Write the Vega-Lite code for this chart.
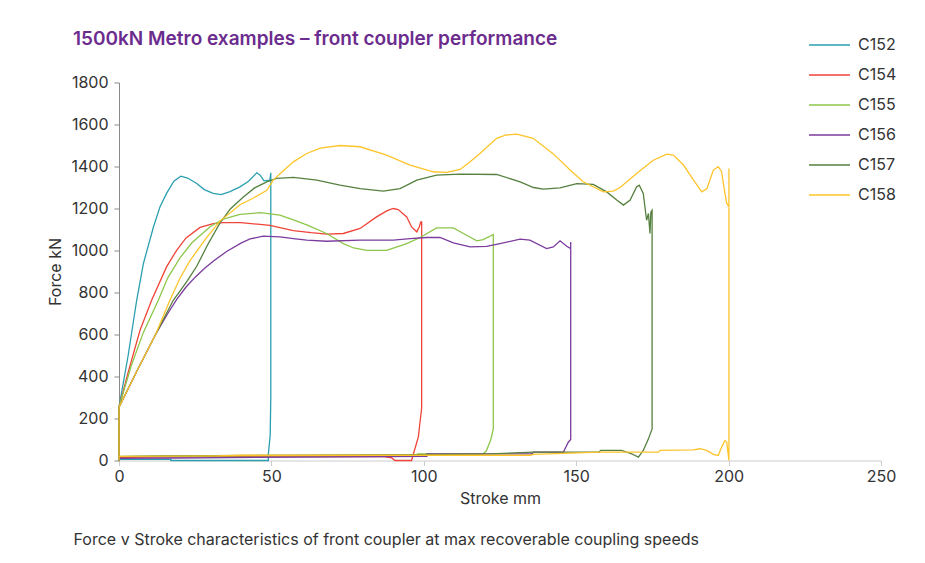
{
"$schema": "https://vega.github.io/schema/vega-lite/v6.json",
"width": 762, "height": 378,
"autosize": {"type": "none"},
"padding": {"left": 119, "top": 82.5, "right": 44, "bottom": 102.5},
"background": "white",
"config": {"font": "Inter", "view": {"stroke": null}},
"title": {"text": "1500kN Metro examples – front coupler performance", "color": "#6b2c8e", "fontSize": 19, "fontWeight": 600, "anchor": "start", "frame": "group", "dx": -46, "dy": 35, "offset": 10},
"data": {"values": [
{"s":"C152","x":0,"y":0,"i":0},{"s":"C152","x":0,"y":254,"i":1},{"s":"C152","x":3,"y":500,"i":2},{"s":"C152","x":5.8,"y":763,"i":3},{"s":"C152","x":8,"y":938,"i":4},{"s":"C152","x":11.3,"y":1112,"i":5},{"s":"C152","x":13.5,"y":1210,"i":6},{"s":"C152","x":15.6,"y":1272,"i":7},{"s":"C152","x":18,"y":1330,"i":8},{"s":"C152","x":20.3,"y":1354,"i":9},{"s":"C152","x":22.5,"y":1345,"i":10},{"s":"C152","x":25.5,"y":1319,"i":11},{"s":"C152","x":28,"y":1290,"i":12},{"s":"C152","x":30.9,"y":1272,"i":13},{"s":"C152","x":33.5,"y":1266,"i":14},{"s":"C152","x":36.4,"y":1280,"i":15},{"s":"C152","x":39.7,"y":1303,"i":16},{"s":"C152","x":42.5,"y":1330,"i":17},{"s":"C152","x":45.2,"y":1370,"i":18},{"s":"C152","x":46.3,"y":1359,"i":19},{"s":"C152","x":47.6,"y":1332,"i":20},{"s":"C152","x":49.5,"y":1335,"i":21},{"s":"C152","x":49.8,"y":1370,"i":22},{"s":"C152","x":49.8,"y":1260,"i":23},{"s":"C152","x":49.8,"y":700,"i":24},{"s":"C152","x":49.8,"y":300,"i":25},{"s":"C152","x":49.6,"y":120,"i":26},{"s":"C152","x":49,"y":30,"i":27},{"s":"C152","x":49,"y":0,"i":28},{"s":"C152","x":17,"y":0,"i":29},{"s":"C152","x":17,"y":5,"i":30},{"s":"C152","x":0,"y":5,"i":31},
{"s":"C154","x":0,"y":0,"i":0},{"s":"C154","x":0,"y":254,"i":1},{"s":"C154","x":3,"y":420,"i":2},{"s":"C154","x":6.9,"y":620,"i":3},{"s":"C154","x":10.7,"y":763,"i":4},{"s":"C154","x":15.6,"y":922,"i":5},{"s":"C154","x":18.9,"y":1001,"i":6},{"s":"C154","x":22,"y":1060,"i":7},{"s":"C154","x":26.6,"y":1110,"i":8},{"s":"C154","x":30.9,"y":1128,"i":9},{"s":"C154","x":34.2,"y":1133,"i":10},{"s":"C154","x":40,"y":1133,"i":11},{"s":"C154","x":46.3,"y":1124,"i":12},{"s":"C154","x":49.5,"y":1120,"i":13},{"s":"C154","x":57.2,"y":1095,"i":14},{"s":"C154","x":63,"y":1085,"i":15},{"s":"C154","x":68.1,"y":1078,"i":16},{"s":"C154","x":73.6,"y":1081,"i":17},{"s":"C154","x":79.1,"y":1105,"i":18},{"s":"C154","x":84.5,"y":1160,"i":19},{"s":"C154","x":88,"y":1190,"i":20},{"s":"C154","x":90,"y":1200,"i":21},{"s":"C154","x":91.6,"y":1195,"i":22},{"s":"C154","x":94.4,"y":1160,"i":23},{"s":"C154","x":96,"y":1112,"i":24},{"s":"C154","x":97.7,"y":1089,"i":25},{"s":"C154","x":98.5,"y":1112,"i":26},{"s":"C154","x":99,"y":1136,"i":27},{"s":"C154","x":99.3,"y":1136,"i":28},{"s":"C154","x":99.3,"y":400,"i":29},{"s":"C154","x":99.3,"y":250,"i":30},{"s":"C154","x":98.5,"y":150,"i":31},{"s":"C154","x":98.2,"y":111,"i":32},{"s":"C154","x":96.6,"y":32,"i":33},{"s":"C154","x":96,"y":0,"i":34},{"s":"C154","x":90.5,"y":0,"i":35},{"s":"C154","x":89.5,"y":12,"i":36},{"s":"C154","x":87,"y":18,"i":37},{"s":"C154","x":30,"y":18,"i":38},{"s":"C154","x":0,"y":15,"i":39},
{"s":"C155","x":0,"y":0,"i":0},{"s":"C155","x":0,"y":254,"i":1},{"s":"C155","x":4,"y":450,"i":2},{"s":"C155","x":8,"y":610,"i":3},{"s":"C155","x":12.9,"y":763,"i":4},{"s":"C155","x":16,"y":870,"i":5},{"s":"C155","x":20,"y":965,"i":6},{"s":"C155","x":24,"y":1038,"i":7},{"s":"C155","x":29.9,"y":1113,"i":8},{"s":"C155","x":34.2,"y":1150,"i":9},{"s":"C155","x":39.7,"y":1172,"i":10},{"s":"C155","x":46.3,"y":1180,"i":11},{"s":"C155","x":52.8,"y":1168,"i":12},{"s":"C155","x":57.2,"y":1146,"i":13},{"s":"C155","x":61.6,"y":1122,"i":14},{"s":"C155","x":68.1,"y":1081,"i":15},{"s":"C155","x":73.6,"y":1033,"i":16},{"s":"C155","x":77,"y":1012,"i":17},{"s":"C155","x":81.3,"y":1001,"i":18},{"s":"C155","x":87.8,"y":1001,"i":19},{"s":"C155","x":94.4,"y":1033,"i":20},{"s":"C155","x":98.8,"y":1062,"i":21},{"s":"C155","x":104.2,"y":1108,"i":22},{"s":"C155","x":109.7,"y":1108,"i":23},{"s":"C155","x":113,"y":1081,"i":24},{"s":"C155","x":117.4,"y":1046,"i":25},{"s":"C155","x":119.5,"y":1052,"i":26},{"s":"C155","x":122.8,"y":1076,"i":27},{"s":"C155","x":122.8,"y":150,"i":28},{"s":"C155","x":122,"y":100,"i":29},{"s":"C155","x":120.5,"y":45,"i":30},{"s":"C155","x":119.5,"y":32,"i":31},{"s":"C155","x":98,"y":32,"i":32},{"s":"C155","x":97.5,"y":22,"i":33},{"s":"C155","x":40,"y":22,"i":34},{"s":"C155","x":0,"y":20,"i":35},
{"s":"C156","x":0,"y":0,"i":0},{"s":"C156","x":0,"y":254,"i":1},{"s":"C156","x":6,"y":430,"i":2},{"s":"C156","x":12,"y":600,"i":3},{"s":"C156","x":16,"y":700,"i":4},{"s":"C156","x":19,"y":768,"i":5},{"s":"C156","x":22,"y":826,"i":6},{"s":"C156","x":25,"y":873,"i":7},{"s":"C156","x":28,"y":914,"i":8},{"s":"C156","x":31,"y":950,"i":9},{"s":"C156","x":35.3,"y":995,"i":10},{"s":"C156","x":40,"y":1035,"i":11},{"s":"C156","x":43,"y":1055,"i":12},{"s":"C156","x":47.3,"y":1068,"i":13},{"s":"C156","x":52.8,"y":1065,"i":14},{"s":"C156","x":57.2,"y":1057,"i":15},{"s":"C156","x":61.6,"y":1049,"i":16},{"s":"C156","x":68.1,"y":1044,"i":17},{"s":"C156","x":79.1,"y":1049,"i":18},{"s":"C156","x":90,"y":1049,"i":19},{"s":"C156","x":95.5,"y":1057,"i":20},{"s":"C156","x":101,"y":1062,"i":21},{"s":"C156","x":105.3,"y":1062,"i":22},{"s":"C156","x":109.7,"y":1036,"i":23},{"s":"C156","x":115.2,"y":1017,"i":24},{"s":"C156","x":120.6,"y":1020,"i":25},{"s":"C156","x":125,"y":1033,"i":26},{"s":"C156","x":131.6,"y":1054,"i":27},{"s":"C156","x":134.8,"y":1049,"i":28},{"s":"C156","x":140.3,"y":1009,"i":29},{"s":"C156","x":142.5,"y":1017,"i":30},{"s":"C156","x":144.7,"y":1046,"i":31},{"s":"C156","x":146.9,"y":1020,"i":32},{"s":"C156","x":148.2,"y":1009,"i":33},{"s":"C156","x":148.2,"y":1040,"i":34},{"s":"C156","x":148.2,"y":100,"i":35},{"s":"C156","x":147.4,"y":87,"i":36},{"s":"C156","x":145.8,"y":40,"i":37},{"s":"C156","x":136,"y":40,"i":38},{"s":"C156","x":135.5,"y":32,"i":39},{"s":"C156","x":101,"y":32,"i":40},{"s":"C156","x":101,"y":20,"i":41},{"s":"C156","x":18,"y":12,"i":42},{"s":"C156","x":0,"y":10,"i":43},
{"s":"C157","x":0,"y":0,"i":0},{"s":"C157","x":0,"y":254,"i":1},{"s":"C157","x":6,"y":430,"i":2},{"s":"C157","x":12,"y":600,"i":3},{"s":"C157","x":17.8,"y":763,"i":4},{"s":"C157","x":20,"y":806,"i":5},{"s":"C157","x":22.5,"y":858,"i":6},{"s":"C157","x":25.5,"y":925,"i":7},{"s":"C157","x":29,"y":1025,"i":8},{"s":"C157","x":33.1,"y":1130,"i":9},{"s":"C157","x":36.5,"y":1198,"i":10},{"s":"C157","x":40.8,"y":1255,"i":11},{"s":"C157","x":44.5,"y":1298,"i":12},{"s":"C157","x":48.5,"y":1327,"i":13},{"s":"C157","x":51.7,"y":1343,"i":14},{"s":"C157","x":57.2,"y":1348,"i":15},{"s":"C157","x":64.9,"y":1335,"i":16},{"s":"C157","x":72.5,"y":1311,"i":17},{"s":"C157","x":79.1,"y":1295,"i":18},{"s":"C157","x":86.7,"y":1283,"i":19},{"s":"C157","x":92.2,"y":1295,"i":20},{"s":"C157","x":97.7,"y":1335,"i":21},{"s":"C157","x":104.2,"y":1359,"i":22},{"s":"C157","x":111.9,"y":1364,"i":23},{"s":"C157","x":123.9,"y":1362,"i":24},{"s":"C157","x":131.6,"y":1327,"i":25},{"s":"C157","x":136,"y":1300,"i":26},{"s":"C157","x":139.2,"y":1292,"i":27},{"s":"C157","x":144.7,"y":1298,"i":28},{"s":"C157","x":150.2,"y":1318,"i":29},{"s":"C157","x":155.6,"y":1315,"i":30},{"s":"C157","x":160,"y":1279,"i":31},{"s":"C157","x":163.3,"y":1240,"i":32},{"s":"C157","x":165.5,"y":1216,"i":33},{"s":"C157","x":167.7,"y":1240,"i":34},{"s":"C157","x":169.8,"y":1303,"i":35},{"s":"C157","x":170.7,"y":1311,"i":36},{"s":"C157","x":172,"y":1272,"i":37},{"s":"C157","x":173.1,"y":1144,"i":38},{"s":"C157","x":173.7,"y":1176,"i":39},{"s":"C157","x":174.2,"y":1081,"i":40},{"s":"C157","x":174.5,"y":1184,"i":41},{"s":"C157","x":174.9,"y":1192,"i":42},{"s":"C157","x":174.9,"y":150,"i":43},{"s":"C157","x":173.7,"y":103,"i":44},{"s":"C157","x":172,"y":48,"i":45},{"s":"C157","x":170.4,"y":16,"i":46},{"s":"C157","x":168.2,"y":32,"i":47},{"s":"C157","x":164.9,"y":48,"i":48},{"s":"C157","x":158,"y":48,"i":49},{"s":"C157","x":157.5,"y":40,"i":50},{"s":"C157","x":136,"y":40,"i":51},{"s":"C157","x":122,"y":32,"i":52},{"s":"C157","x":98,"y":28,"i":53},{"s":"C157","x":15,"y":22,"i":54},{"s":"C157","x":0,"y":18,"i":55},
{"s":"C158","x":0,"y":0,"i":0},{"s":"C158","x":0,"y":254,"i":1},{"s":"C158","x":6,"y":430,"i":2},{"s":"C158","x":12,"y":600,"i":3},{"s":"C158","x":16.7,"y":763,"i":4},{"s":"C158","x":20,"y":868,"i":5},{"s":"C158","x":23.3,"y":952,"i":6},{"s":"C158","x":28.8,"y":1063,"i":7},{"s":"C158","x":33.1,"y":1140,"i":8},{"s":"C158","x":39.7,"y":1218,"i":9},{"s":"C158","x":44.1,"y":1250,"i":10},{"s":"C158","x":48.5,"y":1287,"i":11},{"s":"C158","x":50.6,"y":1335,"i":12},{"s":"C158","x":53.9,"y":1380,"i":13},{"s":"C158","x":57.2,"y":1422,"i":14},{"s":"C158","x":61.6,"y":1462,"i":15},{"s":"C158","x":66,"y":1487,"i":16},{"s":"C158","x":72.5,"y":1500,"i":17},{"s":"C158","x":79.1,"y":1494,"i":18},{"s":"C158","x":87.8,"y":1454,"i":19},{"s":"C158","x":95.5,"y":1407,"i":20},{"s":"C158","x":100,"y":1388,"i":21},{"s":"C158","x":103.1,"y":1375,"i":22},{"s":"C158","x":107.5,"y":1372,"i":23},{"s":"C158","x":111.9,"y":1386,"i":24},{"s":"C158","x":115,"y":1420,"i":25},{"s":"C158","x":118.4,"y":1462,"i":26},{"s":"C158","x":123.9,"y":1534,"i":27},{"s":"C158","x":127,"y":1550,"i":28},{"s":"C158","x":130.5,"y":1554,"i":29},{"s":"C158","x":135.9,"y":1534,"i":30},{"s":"C158","x":142.5,"y":1460,"i":31},{"s":"C158","x":148,"y":1383,"i":32},{"s":"C158","x":152.3,"y":1327,"i":33},{"s":"C158","x":158.9,"y":1279,"i":34},{"s":"C158","x":162.2,"y":1283,"i":35},{"s":"C158","x":164.4,"y":1300,"i":36},{"s":"C158","x":169.8,"y":1367,"i":37},{"s":"C158","x":175.3,"y":1430,"i":38},{"s":"C158","x":179.7,"y":1459,"i":39},{"s":"C158","x":181.9,"y":1454,"i":40},{"s":"C158","x":185.2,"y":1407,"i":41},{"s":"C158","x":188.5,"y":1335,"i":42},{"s":"C158","x":191.2,"y":1279,"i":43},{"s":"C158","x":192.9,"y":1295,"i":44},{"s":"C158","x":195,"y":1383,"i":45},{"s":"C158","x":196.6,"y":1399,"i":46},{"s":"C158","x":197.7,"y":1375,"i":47},{"s":"C158","x":198.8,"y":1272,"i":48},{"s":"C158","x":199.4,"y":1224,"i":49},{"s":"C158","x":200.1,"y":1208,"i":50},{"s":"C158","x":200.1,"y":1391,"i":51},{"s":"C158","x":200.1,"y":1154,"i":52},{"s":"C158","x":200.1,"y":0,"i":53},{"s":"C158","x":199.4,"y":87,"i":54},{"s":"C158","x":198.8,"y":95,"i":55},{"s":"C158","x":197.7,"y":63,"i":56},{"s":"C158","x":196.6,"y":24,"i":57},{"s":"C158","x":195,"y":29,"i":58},{"s":"C158","x":192.8,"y":48,"i":59},{"s":"C158","x":190.6,"y":56,"i":60},{"s":"C158","x":188.4,"y":51,"i":61},{"s":"C158","x":177.5,"y":48,"i":62},{"s":"C158","x":177,"y":40,"i":63},{"s":"C158","x":157.8,"y":40,"i":64},{"s":"C158","x":136,"y":29,"i":65},{"s":"C158","x":135,"y":25,"i":66},{"s":"C158","x":40,"y":25,"i":67},{"s":"C158","x":32,"y":22,"i":68},{"s":"C158","x":0,"y":20,"i":69}
]},
"layer": [
{"mark": {"type": "line", "strokeWidth": 1.3, "interpolate": "linear"},
 "encoding": {
  "x": {"field": "x", "type": "quantitative", "scale": {"domain": [0, 250], "nice": false},
        "axis": {"values": [0, 50, 100, 150, 200, 250], "title": "Stroke mm", "grid": false, "labelFlush": false, "domainColor": "#cccccc", "tickColor": "#cccccc", "tickSize": 5, "labelFontSize": 16, "labelColor": "#333333", "labelPadding": 3, "titleFontSize": 16, "titleFontWeight": "normal", "titleColor": "#333333", "titlePadding": 6}},
  "y": {"field": "y", "type": "quantitative", "scale": {"domain": [0, 1800], "nice": false},
        "axis": {"values": [0, 200, 400, 600, 800, 1000, 1200, 1400, 1600, 1800], "format": "d", "title": "Force kN", "grid": false, "labelFlush": false, "domainColor": "#8a8a8a", "tickColor": "#8a8a8a", "tickSize": 5, "labelFontSize": 16, "labelColor": "#333333", "labelPadding": 6, "titleFontSize": 16, "titleFontWeight": "normal", "titleColor": "#333333", "titlePadding": 7}},
  "color": {"field": "s", "type": "nominal",
        "scale": {"domain": ["C152", "C154", "C155", "C156", "C157", "C158"], "range": ["#2a9fb0", "#ef4438", "#8dc64a", "#7b3c9e", "#55803f", "#fdc42a"]},
        "legend": {"title": null, "orient": "none", "legendX": 689, "legendY": -59, "symbolType": "stroke", "symbolSize": 1681, "symbolStrokeWidth": 1.5, "labelFontSize": 16, "labelColor": "#333333", "labelOffset": 7, "rowPadding": 0}},
  "order": {"field": "i", "type": "quantitative"}
 }},
{"mark": {"type": "point", "opacity": 0},
 "encoding": {
  "x": {"field": "x", "type": "quantitative",
        "axis": {"orient": "bottom", "title": "Force v Stroke characteristics of front coupler at max recoverable coupling speeds", "labels": false, "ticks": false, "domain": false, "grid": false, "titleFontSize": 16, "titleFontWeight": "normal", "titleColor": "#333333", "titleX": -46, "titleY": 84, "titleAlign": "left", "titleAnchor": "start", "titleBaseline": "alphabetic"}},
  "y": {"field": "y", "type": "quantitative"}
 }}
],
"resolve": {"axis": {"x": "independent"}}
}
